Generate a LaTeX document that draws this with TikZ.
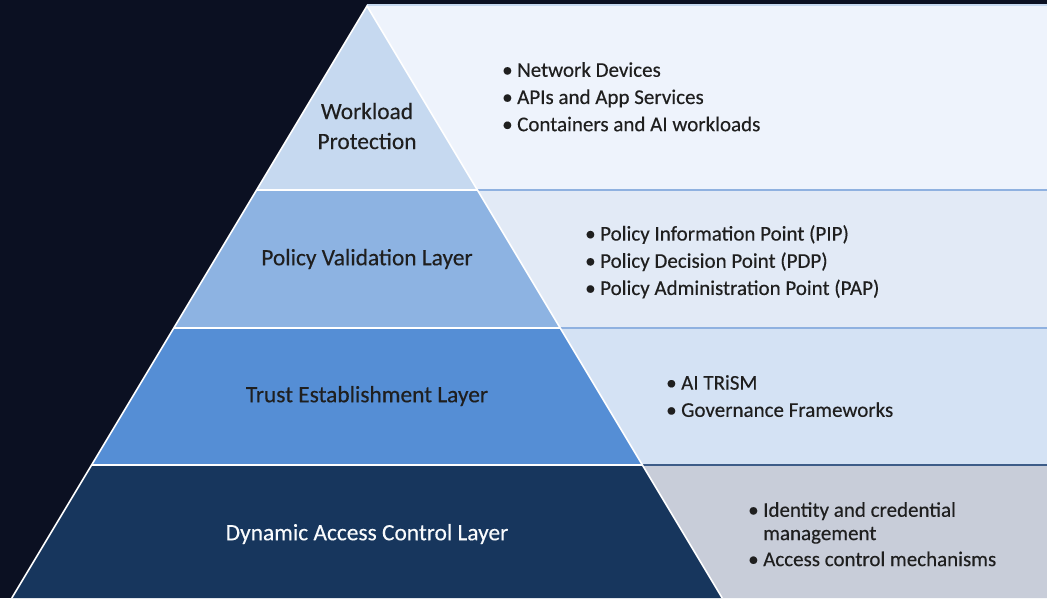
\documentclass[tikz,border=0pt]{standalone}
\usepackage{fontspec}
\setmainfont{Carlito}
\begin{document}
\begin{tikzpicture}[x=1pt,y=-1pt,
  edge/.style={draw=white,line width=1.6pt},
  sep/.style={draw=#1,line width=2.2pt},
  head/.style={font=\fontsize{23.4}{30}\selectfont\addfontfeatures{FakeBold=0.3},text=black!88,align=center,inner sep=0pt},
  items/.style={font=\fontsize{21}{27.2}\selectfont\addfontfeatures{FakeBold=0.3},text=black!88,align=left,anchor=north west,inner sep=0pt}
]
\definecolor{bg}{HTML}{0B1022}
\definecolor{lvA}{HTML}{C6D9F0}
\definecolor{lvB}{HTML}{8DB3E2}
\definecolor{lvC}{HTML}{558ED5}
\definecolor{lvD}{HTML}{17365D}
\definecolor{pnA}{HTML}{EEF3FC}
\definecolor{pnB}{HTML}{E2EAF6}
\definecolor{pnC}{HTML}{D4E2F4}
\definecolor{pnD}{HTML}{C8CDD9}
\definecolor{lineblue}{HTML}{8FB1E0}
\definecolor{linedark}{HTML}{3D5C88}
\newcommand{\bl}[1]{\makebox[15pt][l]{•}#1}

\useasboundingbox (0,0) rectangle (1047,598);
\fill[bg] (0,0) rectangle (1047,598);

% pyramid outline points
\coordinate (apex) at (367,6);
\coordinate (l1) at (256.6,190);  \coordinate (r1) at (477.4,190);
\coordinate (l2) at (173.8,328);  \coordinate (r2) at (560.2,328);
\coordinate (l3) at (91.6,465);   \coordinate (r3) at (642.4,465);
\coordinate (l4) at (11.8,598);   \coordinate (r4) at (722.2,598);

% panels beside each layer
\fill[pnA] (apex) -- (367,5) -- (1047,5) -- (1047,190) -- (r1) -- cycle;
\fill[pnB] (r1) -- (1047,190) -- (1047,328) -- (r2) -- cycle;
\fill[pnC] (r2) -- (1047,328) -- (1047,465) -- (r3) -- cycle;
\fill[pnD] (r3) -- (1047,465) -- (1047,598) -- (r4) -- cycle;
\draw[draw=lvA,line width=1.2pt] (367,5) -- (1047,5);
\draw[sep=lineblue] (r1) -- (1047,190);
\draw[sep=lineblue] (r2) -- (1047,328);
\draw[sep=linedark] (r3) -- (1047,465);

% pyramid layers
\fill[lvA] (apex) -- (r1) -- (l1) -- cycle;
\fill[lvB] (l1) -- (r1) -- (r2) -- (l2) -- cycle;
\fill[lvC] (l2) -- (r2) -- (r3) -- (l3) -- cycle;
\fill[lvD] (l3) -- (r3) -- (r4) -- (l4) -- cycle;
\draw[edge] (l1) -- (r1);
\draw[edge] (l2) -- (r2);
\draw[edge] (l3) -- (r3);
\draw[edge] (l4) -- (apex) -- (r4);

% layer titles
\node[head] (wp) at (367,126) {Workload\\Protection};
\node[head] (pv) at (367,259) {Policy Validation Layer};
\node[head] (te) at (367,396) {Trust Establishment Layer};
\node[head,text=white!90!lvA] (da) at (367,534) {Dynamic Access Control Layer};

% item lists
\node[items] (ia) at (502,62) {\bl{Network Devices}\\\bl{APIs and App Services}\\\bl{Containers and AI workloads}};
\node[items] (ib) at (585,225) {\bl{Policy Information Point (PIP)}\\\bl{Policy Decision Point (PDP)}\\\bl{Policy Administration Point (PAP)}};
\node[items] (ic) at (666,375) {\bl{AI TRiSM}\\\bl{Governance Frameworks}};
\node[items,font=\fontsize{21}{23.3}\selectfont\addfontfeatures{FakeBold=0.3}] (id) at (748,502) {\bl{Identity and credential}\\\hspace*{15pt}management\\[2.7pt]\bl{Access control mechanisms}};
\end{tikzpicture}
\end{document}
